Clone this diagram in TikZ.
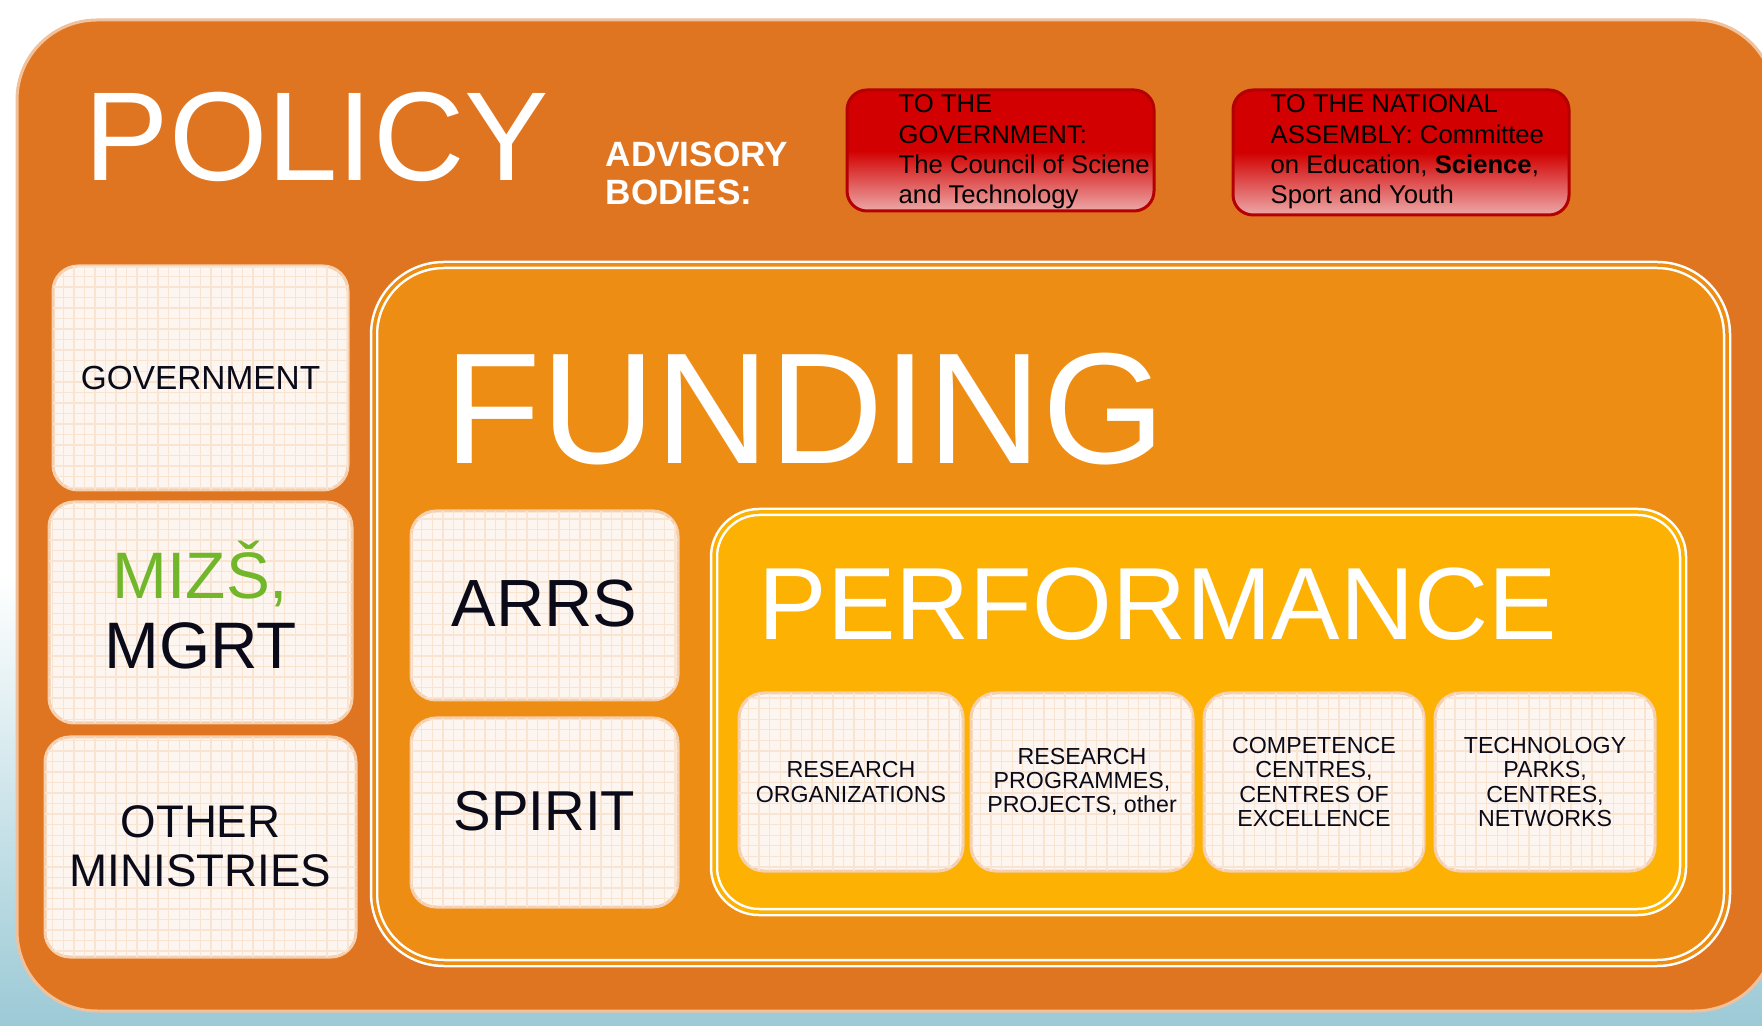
\documentclass[tikz,border=0pt]{standalone}
\usepackage{fontspec}
\setmainfont{Liberation Sans}
\usepackage{tikz}
\usetikzlibrary{patterns}
\definecolor{policyorange}{HTML}{E07521}
\definecolor{fundingorange}{HTML}{EE8D13}
\definecolor{performanceyellow}{HTML}{FDB203}
\definecolor{boxcream}{HTML}{FDF6F0}
\definecolor{gridtan}{HTML}{F9E4D2}
\definecolor{boxedge}{HTML}{F5CFAE}
\definecolor{redtop}{HTML}{D20000}
\definecolor{redbottom}{HTML}{EDA8A8}
\definecolor{redline}{HTML}{B40000}
\definecolor{mizsgreen}{HTML}{72B62B}
\definecolor{skyblue}{HTML}{9CCAD6}
\definecolor{inktext}{HTML}{0A0A18}

\begin{document}
\begin{tikzpicture}[
        whitebox/.style={fill=boxcream, draw=boxedge, line width=0.3mm, rounded corners=2.5mm,
            postaction={pattern=grid, pattern color=gridtan}},
        advisorybox/.style={top color=redtop, bottom color=redbottom, middle color=redtop,
            draw=redline, line width=0.3mm, rounded corners=2mm},
        boxtext/.style={inner sep=0pt, text=inktext, align=center}
    ]

        \useasboundingbox (0,0) rectangle (17.62,10.25);

        % Background
        \fill[white] (0,0) rectangle (17.62,10.25);
        \shade[top color=white, bottom color=skyblue] (0,0) rectangle (17.62,4.5);

        % Policy
        \draw[fill=policyorange, draw=white!55!policyorange, line width=0.3mm, rounded corners=8mm] (0.17,0.14) rectangle (17.75,10.05);
        \node[anchor=base west, inner sep=0pt, text=white, font=\fontsize{36}{36}\selectfont] (policy) at (0.84,8.44) {POLICY};

        % Advisory bodies
        \node[anchor=west, align=left, inner sep=0pt, text=white, font=\bfseries\fontsize{10}{10.8}\selectfont] (advisory) at (6.05,8.52) {ADVISORY\\BODIES:};

        \draw[advisorybox] (8.47,9.35) rectangle (11.54,8.14);
        \node[anchor=west, align=left, inner sep=0pt, font=\fontsize{7.3}{8.6}\selectfont] (council) at (8.98,8.73) {TO THE\\GOVERNMENT:\\The Council of Sciene\\and Technology};

        \draw[advisorybox] (12.33,9.35) rectangle (15.69,8.10);
        \node[anchor=west, align=left, inner sep=0pt, font=\fontsize{7.3}{8.6}\selectfont] (assembly) at (12.70,8.73) {TO THE NATIONAL\\ASSEMBLY: Committee\\on Education, \textbf{Science},\\Sport and Youth};

        % Ministries
        \draw[whitebox] (0.53,7.59) rectangle (3.48,5.35);
        \node[boxtext, font=\fontsize{9.5}{11}\selectfont] (gov) at (2.005,6.47) {GOVERNMENT};

        \draw[whitebox] (0.49,5.23) rectangle (3.52,3.02);
        \node[boxtext, font=\fontsize{18.7}{19.9}\selectfont] (mizs) at (2.005,4.20) {\textcolor{mizsgreen}{MIZŠ,}\\MGRT};

        \draw[whitebox] (0.45,2.88) rectangle (3.56,0.68);
        \node[boxtext, font=\fontsize{13}{14}\selectfont] (other) at (2.005,1.79) {OTHER\\MINISTRIES};

        % Funding
        \draw[fill=fundingorange, draw=white, double=fundingorange, double distance=0.35mm, line width=0.25mm, rounded corners=7mm] (3.74,7.60) rectangle (17.27,0.62);
        \node[anchor=base west, inner sep=0pt, text=white, font=\fontsize{45}{45}\selectfont] (funding) at (4.44,5.61) {FUNDING};

        % Agencies
        \draw[whitebox] (4.11,5.14) rectangle (6.78,3.25);
        \node[boxtext, font=\fontsize{19}{20}\selectfont] (arrs) at (5.445,4.21) {ARRS};

        \draw[whitebox] (4.11,3.07) rectangle (6.78,1.18);
        \node[boxtext, font=\fontsize{16}{17}\selectfont] (spirit) at (5.445,2.14) {SPIRIT};

        % Performance
        \draw[fill=performanceyellow, draw=white, double=performanceyellow, double distance=0.35mm, line width=0.25mm, rounded corners=4.5mm] (7.14,5.13) rectangle (16.83,1.13);
        \node[anchor=base west, inner sep=0pt, text=white, font=\fontsize{29.2}{29.2}\selectfont] (performance) at (7.58,3.85) {PERFORMANCE};

        % Performers
        \draw[whitebox] (7.39,3.32) rectangle (9.63,1.54);
        \node[boxtext, font=\fontsize{6.6}{6.9}\selectfont] (orgs) at (8.51,2.43) {RESEARCH\\ORGANIZATIONS};

        \draw[whitebox] (9.71,3.32) rectangle (11.93,1.54);
        \node[boxtext, font=\fontsize{6.6}{6.9}\selectfont] (programmes) at (10.82,2.43) {RESEARCH\\PROGRAMMES,\\PROJECTS, other};

        \draw[whitebox] (12.04,3.32) rectangle (14.24,1.54);
        \node[boxtext, font=\fontsize{6.6}{6.9}\selectfont] (centres) at (13.14,2.43) {COMPETENCE\\CENTRES,\\CENTRES OF\\EXCELLENCE};

        \draw[whitebox] (14.35,3.32) rectangle (16.55,1.54);
        \node[boxtext, font=\fontsize{6.6}{6.9}\selectfont] (parks) at (15.45,2.43) {TECHNOLOGY\\PARKS,\\CENTRES,\\NETWORKS};

       \end{tikzpicture}
\end{document}
